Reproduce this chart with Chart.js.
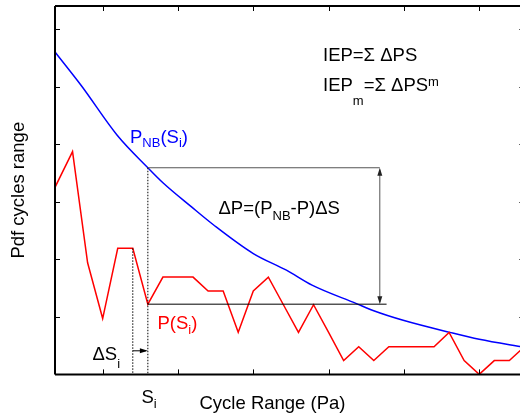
<!DOCTYPE html>
<html>
<head>
<meta charset="utf-8">
<script src="https://cdn.jsdelivr.net/npm/chart.js@4"></script>
<style>
  html, body { margin: 0; padding: 0; overflow: hidden; background: #fff; }
  #wrap { width: 530px; height: 414px; }
</style>
</head>
<body>
<div id="wrap"><canvas id="chart" width="530" height="414"></canvas></div>
<script>
// cycle range axis (tick units), pdf axis
const xMin = 0.367, xMax = 6.6;
const yMin = 0, yMax = 6.4;
const xTicks = [1, 2, 3, 4, 5, 6];
const yTicks = [1, 2, 3, 4, 5, 6];

// P(S) - measured pdf (red)
const redX = [0.367, 0.6, 0.8, 1.0, 1.2, 1.4, 1.6, 1.8, 2.0, 2.2, 2.4, 2.6, 2.8, 3.0, 3.2, 3.4,
              3.6, 3.8, 4.0, 4.2, 4.4, 4.6, 4.8, 5.0, 5.2, 5.4, 5.6, 5.8, 6.0, 6.2, 6.4, 6.6];
const redY = [3.25, 3.87, 1.94, 0.97, 2.19, 2.19, 1.22, 1.69, 1.69, 1.69, 1.45, 1.45, 0.73, 1.45, 1.69, 1.21,
              0.73, 1.21, 0.73, 0.24, 0.48, 0.24, 0.48, 0.48, 0.48, 0.48, 0.73, 0.24, 0.0, 0.24, 0.24, 0.48];

// P_NB(S) - reference pdf (blue)
const blueX = [0.367, 0.72, 1.19, 1.6, 1.8, 2.18, 2.47, 3.0, 3.44, 3.78, 4.37, 4.59, 4.99, 5.61, 6.0, 6.6];
const blueY = [5.6, 5.01, 4.16, 3.59, 3.33, 2.91, 2.6, 2.1, 1.81, 1.55, 1.23, 1.11, 0.94, 0.73, 0.61, 0.47];

// annotation: S_i, S_(i-1), end of the delta P bracket
const sI = 1.6, sPrev = 1.4, bracketX = 4.68, bracketEnd = 4.77, dsArrowY = 0.41;

const FONT = '"Liberation Sans", Arial, Helvetica, sans-serif';
const SIZE = 18.5, SMALL = 13;

function toPoints(xs, ys) {
  return xs.map((v, i) => ({ x: v, y: ys[i] }));
}

// draw text with sub/superscripts, parts are strings or {t, dy}
function richText(ctx, parts, x0, y0, color) {
  let cx = x0;
  ctx.fillStyle = color;
  ctx.textAlign = 'left';
  ctx.textBaseline = 'alphabetic';
  parts.forEach(p => {
    const part = typeof p === 'string' ? { t: p, dy: 0 } : p;
    ctx.font = (part.dy ? SMALL : SIZE) + 'px ' + FONT;
    ctx.fillText(part.t, cx, y0 + part.dy);
    cx += ctx.measureText(part.t).width;
  });
}

function arrowHead(ctx, x, y, dir) {
  // dir: 'up', 'down', 'right'
  ctx.beginPath();
  if (dir === 'up') { ctx.moveTo(x, y); ctx.lineTo(x - 2.5, y + 8); ctx.lineTo(x + 2.5, y + 8); }
  if (dir === 'down') { ctx.moveTo(x, y); ctx.lineTo(x - 2.5, y - 8); ctx.lineTo(x + 2.5, y - 8); }
  if (dir === 'right') { ctx.moveTo(x, y); ctx.lineTo(x - 8, y - 2.5); ctx.lineTo(x - 8, y + 2.5); }
  ctx.closePath();
  ctx.fill();
}

const overlay = {
  id: 'overlay',
  afterDatasetsDraw(chart) {
    const { ctx, chartArea: a, scales: { x, y } } = chart;
    ctx.save();

    // dotted guides at S_(i-1) and S_i
    ctx.strokeStyle = '#000';
    ctx.lineWidth = 1;
    ctx.setLineDash([1.5, 1.5]);
    ctx.beginPath();
    ctx.moveTo(x.getPixelForValue(sPrev), y.getPixelForValue(redY[redX.indexOf(sPrev)]));
    ctx.lineTo(x.getPixelForValue(sPrev), a.bottom);
    ctx.moveTo(x.getPixelForValue(sI), y.getPixelForValue(blueY[blueX.indexOf(sI)]));
    ctx.lineTo(x.getPixelForValue(sI), a.bottom);
    ctx.stroke();
    ctx.setLineDash([]);

    // delta P bracket
    const yTop = y.getPixelForValue(blueY[blueX.indexOf(sI)]);
    const yBot = y.getPixelForValue(redY[redX.indexOf(sI)]);
    const bx = x.getPixelForValue(bracketX);
    ctx.strokeStyle = '#555';
    ctx.beginPath();
    ctx.moveTo(x.getPixelForValue(sI), yTop);
    ctx.lineTo(bx, yTop);
    ctx.moveTo(bx, yTop + 2);
    ctx.lineTo(bx, yBot - 2);
    ctx.stroke();
    ctx.strokeStyle = '#000';
    ctx.beginPath();
    ctx.moveTo(x.getPixelForValue(sI), yBot);
    ctx.lineTo(x.getPixelForValue(bracketEnd), yBot);
    ctx.stroke();
    ctx.fillStyle = '#222';
    arrowHead(ctx, bx, yTop, 'up');
    arrowHead(ctx, bx, yBot, 'down');

    // delta S arrow
    const ay = y.getPixelForValue(dsArrowY);
    ctx.strokeStyle = '#000';
    ctx.beginPath();
    ctx.moveTo(x.getPixelForValue(sPrev), ay);
    ctx.lineTo(x.getPixelForValue(sI) - 2, ay);
    ctx.stroke();
    ctx.fillStyle = '#000';
    arrowHead(ctx, x.getPixelForValue(sI), ay, 'right');

    // frame and inward ticks
    ctx.lineWidth = 2;
    ctx.beginPath();
    ctx.moveTo(a.left, a.top);
    ctx.lineTo(a.right, a.top);
    ctx.moveTo(a.left, a.top);
    ctx.lineTo(a.left, a.bottom);
    ctx.moveTo(a.left, a.bottom);
    ctx.lineTo(a.right, a.bottom);
    ctx.moveTo(a.right, a.top);
    ctx.lineTo(a.right, a.bottom);
    ctx.stroke();
    ctx.lineWidth = 1;
    ctx.beginPath();
    xTicks.forEach(v => {
      const px = Math.round(x.getPixelForValue(v)) + 0.5;
      ctx.moveTo(px, a.bottom); ctx.lineTo(px, a.bottom - 5);
      ctx.moveTo(px, a.top); ctx.lineTo(px, a.top + 5);
    });
    yTicks.forEach(v => {
      const py = Math.round(y.getPixelForValue(v)) + 0.5;
      ctx.moveTo(a.left, py); ctx.lineTo(a.left + 5, py);
      ctx.moveTo(a.right, py); ctx.lineTo(a.right - 5, py);
    });
    ctx.stroke();

    // formulas and labels
    richText(ctx, ['IEP=Σ ΔPS'], 323, 60.5, '#000');
    richText(ctx, ['IEP', { t: 'm', dy: 14 }, '=Σ ΔPS', { t: 'm', dy: -5 }], 323, 90.5, '#000');
    richText(ctx, ['P', { t: 'NB', dy: 4 }, '(S', { t: 'i', dy: 4 }, ')'], 130, 143.3, '#0000ff');
    richText(ctx, ['ΔP=(P', { t: 'NB', dy: 6 }, '-P)ΔS'], 218.5, 214, '#000');
    richText(ctx, ['P(S', { t: 'i', dy: 5 }, ')'], 157.5, 328.7, '#ff0000');
    richText(ctx, ['ΔS', { t: 'i', dy: 8 }], 92.5, 360.3, '#000');
    richText(ctx, ['S', { t: 'i', dy: 5 }], 141.5, 403.3, '#000');

    // axis titles
    ctx.fillStyle = '#000';
    ctx.font = SIZE + 'px ' + FONT;
    ctx.textAlign = 'center';
    ctx.fillText('Cycle Range (Pa)', 272.5, 408.5);
    ctx.translate(23.5, (a.top + a.bottom) / 2);
    ctx.rotate(-Math.PI / 2);
    ctx.fillText('Pdf cycles range', 0, 0);

    ctx.restore();
  }
};

new Chart(document.getElementById('chart'), {
  type: 'line',
  data: {
    datasets: [
      {
        label: 'P(S)',
        data: toPoints(redX, redY),
        borderColor: '#ff0000',
        borderWidth: 1.5
      },
      {
        label: 'P_NB(S)',
        data: toPoints(blueX, blueY),
        borderColor: '#0000ff',
        borderWidth: 1.5,
        cubicInterpolationMode: 'monotone'
      }
    ]
  },
  options: {
    responsive: false,
    animation: false,
    layout: { padding: { left: 55, top: 6, right: 5.6, bottom: 39.6 } },
    elements: { point: { radius: 0 }, line: { tension: 0 } },
    plugins: { legend: { display: false }, tooltip: { enabled: false } },
    scales: {
      x: { type: 'linear', min: xMin, max: xMax, display: false },
      y: { min: yMin, max: yMax, display: false }
    }
  },
  plugins: [overlay]
});
</script>
</body>
</html>
